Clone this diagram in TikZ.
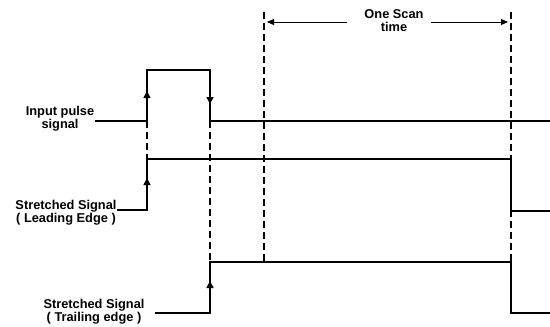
\documentclass[tikz,border=0pt]{standalone}
\usepackage{fontspec}
\setmainfont{Liberation Sans}
\usetikzlibrary{arrows.meta}
\begin{document}
\begin{tikzpicture}[x=1pt,y=-1pt,
  sig/.style={line width=1.6pt,line join=miter},
  guide/.style={line width=1.2pt,dash pattern=on 7pt off 4pt},
  tip/.style={-{Triangle[length=7pt,width=7pt]},line width=1.6pt},
  dimline/.style={line width=0.9pt,-{Triangle[length=7pt,width=6pt]}},
  lbl/.style={font=\fontsize{12.8}{13.5}\selectfont\bfseries,align=center,inner sep=0pt}]
\useasboundingbox (0,0) rectangle (550,327);
% label nodes
\node[lbl] (lin) at (60,118.5) {Input pulse\\signal};
\node[lbl] (llead) at (66,212.5) {Stretched Signal\\( Leading Edge )};
\node[lbl] (ltrail) at (94,311.5) {Stretched Signal\\( Trailing edge )};
\node[lbl] (lscan) at (394,20.5) {One Scan\\time};
% key coordinates
\coordinate (a0) at (95,121);
\coordinate (a1) at (147,121);
\coordinate (a2) at (147,70);
\coordinate (a3) at (210,70);
\coordinate (a4) at (210,121);
\coordinate (a5) at (550,121);
\coordinate (b0) at (117,210);
\coordinate (b1) at (147,210);
\coordinate (b2) at (147,159);
\coordinate (b3) at (511,159);
\coordinate (b4) at (511,211);
\coordinate (b5) at (550,211);
\coordinate (c0) at (155,313);
\coordinate (c1) at (210,313);
\coordinate (c2) at (210,262);
\coordinate (c3) at (511,262);
\coordinate (c4) at (511,313);
\coordinate (c5) at (550,313);
\coordinate (s1t) at (264,12);
\coordinate (s1b) at (264,262);
\coordinate (s2t) at (511,12);
\coordinate (s2b) at (511,262);
\coordinate (dl) at (267,22);
\coordinate (dr) at (508,22);
\coordinate (dl2) at (347,22);
\coordinate (dr2) at (431,22);
% dashed guides
\draw[guide] (a1) -- (b2);
\draw[guide] (a4) -- (c2);
\draw[guide] (s1t) -- (s1b);
\draw[guide] (s2t) -- (s2b);
% signals
\draw[sig] (a0) -- (a1) -- (a2) -- (a3) -- (a4) -- (a5);
\draw[sig] (b0) -- (b1) -- (b2) -- (b3) -- (b4) -- (b5);
\draw[sig] (c0) -- (c1) -- (c2) -- (c3) -- (c4) -- (c5);
% edge arrows
\draw[tip] (a1) -- (147,91);
\draw[tip] (a3) -- (210,104);
\draw[tip] (b1) -- (147,178);
\draw[tip] (c1) -- (210,281);
% scan time dimension
\draw[dimline] (dl2) -- (dl);
\draw[dimline] (dr2) -- (dr);
\end{tikzpicture}
\end{document}
